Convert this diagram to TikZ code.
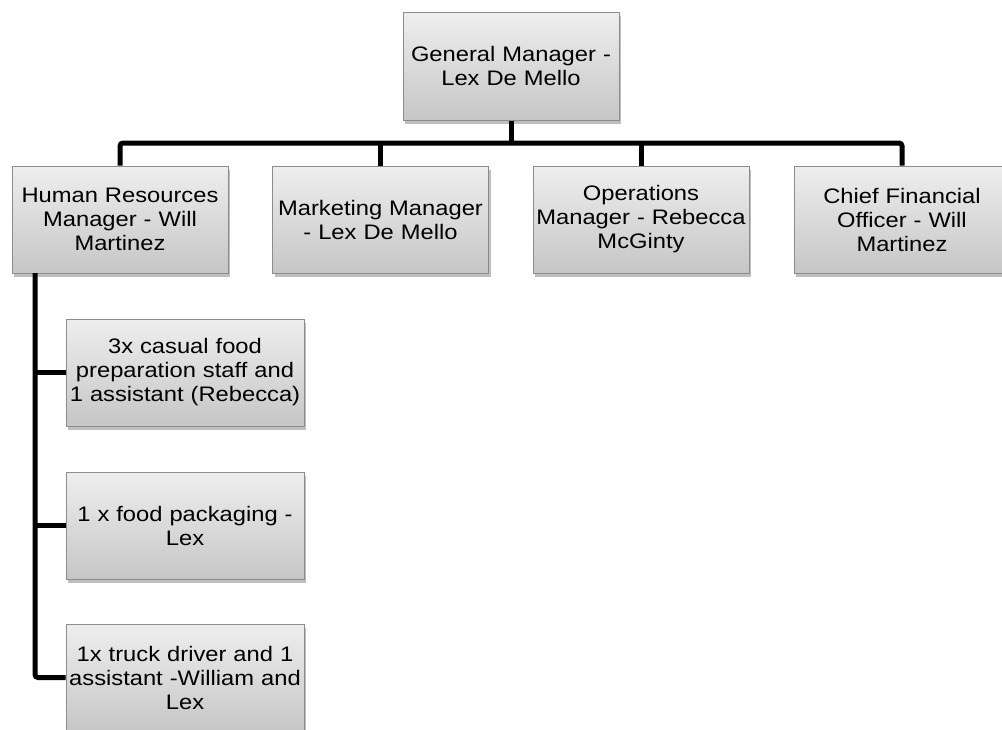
\documentclass[tikz,border=0pt]{standalone}
\usepackage{fontspec}
\setmainfont[FakeStretch=1.13]{Liberation Sans}
\usetikzlibrary{shadows}
\definecolor{boxtop}{RGB}{238,238,238}
\definecolor{boxbot}{RGB}{198,198,198}
\definecolor{boxline}{RGB}{140,140,140}
\tikzset{
  orgbox/.style={draw=boxline, line width=1pt, top color=boxtop, bottom color=boxbot,
    minimum width=216pt, minimum height=107pt, text width=214pt, align=center, inner sep=0pt,
    font=\fontsize{21}{24}\selectfont,
    drop shadow={shadow xshift=2pt, shadow yshift=-4pt, opacity=0.25, fill=black}},
  childbox/.style={orgbox, minimum width=238pt, text width=236pt},
  link/.style={line width=5pt, draw=black, rounded corners=3pt}
}
\begin{document}
\begin{tikzpicture}[x=1pt,y=-1pt]
\useasboundingbox (0,0) rectangle (1002,729);
\clip (0,0) rectangle (1002,729);
\fill[white] (0,0) rectangle (1002,729);
\coordinate (bus) at (511,143);
\coordinate (trunk) at (35,273);
\node[orgbox, minimum height=108pt] (gm) at (511,66) {General Manager -\\Lex De Mello};
\node[orgbox] (hr) at (120,219.5) {Human Resources\\Manager - Will\\Martinez};
\node[orgbox] (mk) at (380.5,219.5) {Marketing Manager\\- Lex De Mello};
\node[orgbox] (op) at (641,219.5) {Operations\\Manager - Rebecca\\McGinty};
\node[orgbox] (cfo) at (902,219.5) {Chief Financial\\Officer - Will\\Martinez};
\node[childbox] (c1) at (185,372.5) {3x casual food\\preparation staff and\\1 assistant (Rebecca)};
\node[childbox] (c2) at (185,525.5) {1 x food packaging -\\Lex};
\node[childbox] (c3) at (185,677.5) {1x truck driver and 1\\assistant -William and\\Lex};
\draw[link] (gm.south) -- (bus);
\draw[link] (hr.north) |- (bus) -| (cfo.north);
\draw[link] (mk.north) -- (mk.north |- bus);
\draw[link] (op.north) -- (op.north |- bus);
\draw[link] (trunk) |- (c3.west);
\draw[link] (c1.west -| trunk) -- (c1.west);
\draw[link] (c2.west -| trunk) -- (c2.west);
\end{tikzpicture}
\end{document}
